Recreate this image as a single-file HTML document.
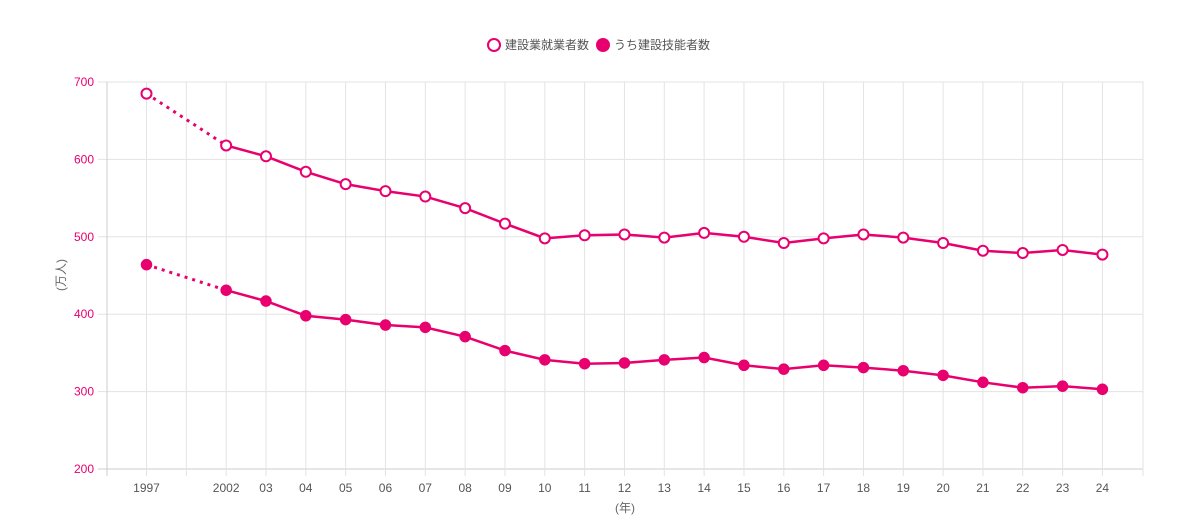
<!DOCTYPE html>
<html><head><meta charset="utf-8"><style>
body{margin:0;background:#fff;width:1200px;height:520px;overflow:hidden}
text{font-family:"Liberation Sans","Noto Sans CJK JP",sans-serif;font-size:12px}
</style></head><body>
<svg width="1200" height="520" xmlns="http://www.w3.org/2000/svg" id="s">
<g id="grid"></g>
<g id="lines"></g>
<g transform="translate(487,45)">
<circle cx="7" cy="0" r="6" fill="#fff" stroke="#e8006f" stroke-width="2"/>
<text x="18" y="4" fill="#555">建設業就業者数</text>
<circle cx="116" cy="0" r="7" fill="#e8006f"/>
<text x="127" y="4" fill="#555">うち建設技能者数</text>
</g>
<text x="65" y="275" fill="#666" transform="rotate(-90 65 275)" text-anchor="middle">(万人)</text>
<text x="625" y="512" fill="#666" text-anchor="middle">(年)</text>
</svg>
<script>
const C="#e8006f",ns="http://www.w3.org/2000/svg";
const g=document.getElementById('grid'),L=document.getElementById('lines');
function el(p,t,a,txt){const e=document.createElementNS(ns,t);for(const k in a)e.setAttribute(k,a[k]);if(txt!=null)e.textContent=txt;p.appendChild(e);return e;}
const X=i=>146.5+i*39.83, Y=v=>82+(700-v)*0.774;
for(let v=200;v<=700;v+=100){el(g,'line',{x1:98,x2:1143,y1:Y(v),y2:Y(v),stroke:v==200?'#ccc':'#e3e3e3'});el(g,'text',{x:94,y:Y(v)+4,'text-anchor':'end',fill:C},v);}
el(g,'line',{x1:107,x2:107,y1:82,y2:476,stroke:'#ccc'});
for(let i=0;i<25;i++){el(g,'line',{x1:X(i),x2:X(i),y1:82,y2:476,stroke:'#e3e3e3'});}
el(g,'line',{x1:1143,x2:1143,y1:82,y2:476,stroke:'#e3e3e3'});
const labs=['1997','','2002','03','04','05','06','07','08','09','10','11','12','13','14','15','16','17','18','19','20','21','22','23','24'];
labs.forEach((t,i)=>{if(t)el(g,'text',{x:X(i),y:492,'text-anchor':'middle',fill:'#555'},t)});
const A=[685,618,604,584,568,559,552,537,517,498,502,503,499,505,500,492,498,503,499,492,482,479,483,477];
const B=[464,431,417,398,393,386,383,371,353,341,336,337,341,344,334,329,334,331,327,321,312,305,307,303];
function draw(d,fill){const xi=i=>i==0?0:i+1;
el(L,'line',{x1:X(0),y1:Y(d[0]),x2:X(2),y2:Y(d[1]),stroke:C,'stroke-width':3,'stroke-dasharray':'3 5'});
el(L,'polyline',{points:d.slice(1).map((v,k)=>X(k+2)+','+Y(v)).join(' '),fill:'none',stroke:C,'stroke-width':2.5});
d.forEach((v,i)=>el(L,'circle',{cx:X(xi(i)),cy:Y(v),r:5,fill:fill?C:'#fff',stroke:C,'stroke-width':fill?1.5:2}));}
draw(A,false);draw(B,true);
</script>
</body></html>
